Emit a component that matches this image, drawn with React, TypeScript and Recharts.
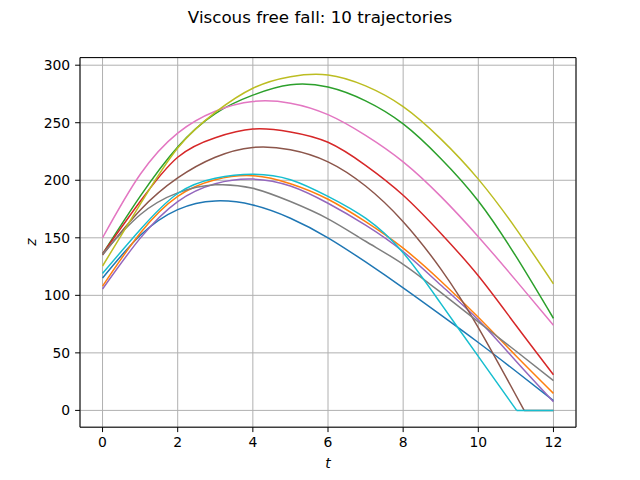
import { CartesianGrid, Line, LineChart, ReferenceArea, XAxis, YAxis } from 'recharts';

const tGrid = [0, 1, 2, 3, 4, 5, 6, 7, 8, 9, 10, 11, 12];
// brown and cyan hit the ground before t = 12 and stay at zero
const brownT = [0, 1, 2, 3, 4, 5, 6, 7, 8, 9, 10, 11.22];
const brownGroundT = [11.22, 12];
const cyanT = [0, 1, 2, 3, 4, 5, 6, 7, 8, 9, 10, 11.02];
const cyanGroundT = [11.02, 12];

const blueZ = [115, 152, 174.5, 182, 178.5, 167, 150, 129, 106.5, 83, 59, 34, 8.5];
const orangeZ = [108, 154, 186, 200.5, 204, 197, 183.5, 164, 141, 112.5, 81, 47.5, 14.8];
const greenZ = [136, 186, 229, 258, 274, 283, 281, 269, 249, 219, 182, 134, 80];
const redZ = [136, 181.5, 220, 237, 244.5, 242, 233, 213, 187, 154, 117, 74, 31];
const purpleZ = [105.5, 149.5, 181.5, 197, 201, 195, 180, 161, 138, 109, 78.6, 43, 7.6];
const brownZ = [135, 174, 202, 220, 228.5, 226.5, 216, 195, 164, 123, 72, 0];
const brownGroundZ = [0, 0];
const pinkZ = [150, 205, 241, 260, 268.5, 267, 257, 239, 216, 186, 151, 113, 74];
const grayZ = [136, 170, 189, 196, 193, 181.5, 166.5, 147, 127, 102.5, 77, 51.6, 25.8];
const oliveZ = [125.5, 179, 228, 259, 280, 290, 291.5, 282, 264, 236, 201, 158, 110];
const cyanZ = [119, 157, 188.5, 201.7, 205.2, 200.5, 186, 167, 137, 93, 47, 0];
const cyanGroundZ = [0, 0];

const xTicks = [0, 2, 4, 6, 8, 10, 12];
const yTicks = [0, 50, 100, 150, 200, 250, 300];
const xDomain: [number, number] = [-0.6, 12.6];
const yDomain: [number, number] = [-14.6, 306.6];

const series = [
  { name: 'C0', color: '#1f77b4', t: tGrid, z: blueZ, curve: 'natural' },
  { name: 'C1', color: '#ff7f0e', t: tGrid, z: orangeZ, curve: 'natural' },
  { name: 'C2', color: '#2ca02c', t: tGrid, z: greenZ, curve: 'natural' },
  { name: 'C3', color: '#d62728', t: tGrid, z: redZ, curve: 'natural' },
  { name: 'C4', color: '#9467bd', t: tGrid, z: purpleZ, curve: 'natural' },
  { name: 'C5', color: '#8c564b', t: brownT, z: brownZ, curve: 'natural' },
  { name: 'C5g', color: '#8c564b', t: brownGroundT, z: brownGroundZ, curve: 'linear' },
  { name: 'C6', color: '#e377c2', t: tGrid, z: pinkZ, curve: 'natural' },
  { name: 'C7', color: '#7f7f7f', t: tGrid, z: grayZ, curve: 'natural' },
  { name: 'C8', color: '#bcbd22', t: tGrid, z: oliveZ, curve: 'natural' },
  { name: 'C9', color: '#17becf', t: cyanT, z: cyanZ, curve: 'natural' },
  { name: 'C9g', color: '#17becf', t: cyanGroundT, z: cyanGroundZ, curve: 'linear' },
];

const font = '"DejaVu Sans", sans-serif';
const tickStyle = { fill: '#000', fontSize: 13.9, fontFamily: font };

export default function App() {
  return (
    <div style={{ position: 'relative', width: 640, height: 480, background: '#fff' }}>
      <style>{'body{margin:0}'}</style>
      <div
        style={{
          position: 'absolute',
          left: 0,
          top: 9,
          width: 640,
          textAlign: 'center',
          fontFamily: font,
          fontSize: 16.7,
          lineHeight: 1,
          color: '#000',
        }}
      >
        Viscous free fall: 10 trajectories
      </div>
      <LineChart width={640} height={480} margin={{ top: 57.6, right: 64, bottom: 0, left: 0 }}>
        <CartesianGrid stroke="#b0b0b0" strokeWidth={1} />
        <XAxis
          type="number"
          dataKey="t"
          domain={xDomain}
          ticks={xTicks}
          allowDataOverflow
          height={52.8}
          axisLine={false}
          tickLine={{ stroke: '#000' }}
          tickSize={4.9}
          tickMargin={4.9}
          tick={tickStyle}
        />
        <YAxis
          type="number"
          domain={yDomain}
          ticks={yTicks}
          allowDataOverflow
          width={80}
          axisLine={false}
          tickLine={{ stroke: '#000' }}
          tickSize={4.9}
          tickMargin={4.9}
          tick={tickStyle}
        />
        {series.map((s) => (
          <Line
            key={s.name}
            data={s.t.map((t, i) => ({ t, z: s.z[i] }))}
            dataKey="z"
            type={s.curve as 'natural' | 'linear'}
            stroke={s.color}
            strokeWidth={1.5}
            dot={false}
            isAnimationActive={false}
          />
        ))}
        <ReferenceArea
          x1={xDomain[0]}
          x2={xDomain[1]}
          y1={yDomain[0]}
          y2={yDomain[1]}
          fill="none"
          stroke="#000"
          strokeWidth={1}
          ifOverflow="visible"
        />
      </LineChart>
      <div
        style={{
          position: 'absolute',
          left: 0,
          top: 457,
          width: 656,
          textAlign: 'center',
          fontFamily: font,
          fontStyle: 'italic',
          fontSize: 13.9,
          lineHeight: 1,
          color: '#000',
        }}
      >
        t
      </div>
      <div
        style={{
          position: 'absolute',
          left: 32,
          top: 242.4,
          transform: 'translate(-50%, -50%) rotate(-90deg)',
          fontFamily: font,
          fontStyle: 'italic',
          fontSize: 13.9,
          lineHeight: 1,
          color: '#000',
        }}
      >
        z
      </div>
    </div>
  );
}
